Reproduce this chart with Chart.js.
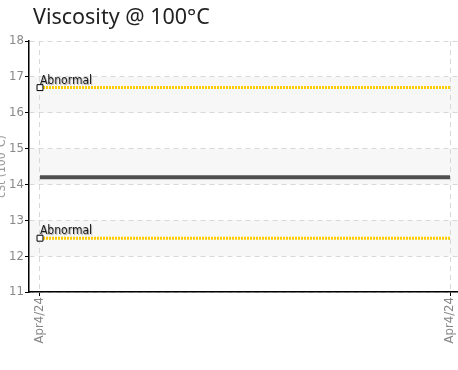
<!DOCTYPE html>
<html>
<head>
<meta charset="utf-8">
<script src="https://cdn.jsdelivr.net/npm/chart.js@4/dist/chart.umd.min.js"></script>
<style>
  html, body { margin: 0; padding: 0; background: #fff; }
  #wrap { width: 458px; height: 370px; position: relative; }
</style>
</head>
<body>
<div id="wrap"><canvas id="c" width="458" height="370"></canvas></div>
<script>
// ---- data ----
const chartTitle = 'Viscosity @ 100°C';
const yAxisTitle = 'cSt (100°C)';
const xLabels = ['Apr4/24', 'Apr4/24'];
const xPositions = [0, 1];
const upperLimit = [16.7, 16.7];
const viscosity = [14.2, 14.2];
const lowerLimit = [12.5, 12.5];
const limitLabel = 'Abnormal';
const yTicks = [11, 12, 13, 14, 15, 16, 17, 18];
const bands = [[16, 17], [14, 15], [12, 13]];

const toPts = arr => arr.map((v, i) => ({ x: xPositions[i], y: v }));

const FONT = '"DejaVu Sans Condensed", "Liberation Sans Narrow", Roboto, sans-serif';

const decor = {
  id: 'decor',
  beforeDraw(chart) {
    const { ctx, chartArea: a, scales: { y } } = chart;
    ctx.save();
    ctx.fillStyle = '#f7f7f7';
    bands.forEach(([lo, hi]) => {
      const t = y.getPixelForValue(hi), b = y.getPixelForValue(lo);
      ctx.fillRect(a.left + 1, t, a.right - a.left - 1, b - t);
    });
    ctx.restore();
  },
  afterDatasetsDraw(chart) {
    const { ctx } = chart;
    ctx.save();
    [0, 2].forEach(di => {
      const p = chart.getDatasetMeta(di).data[0];
      ctx.font = '12px ' + FONT;
      ctx.textAlign = 'left';
      ctx.textBaseline = 'alphabetic';
      ctx.shadowColor = 'rgba(0,0,0,0.35)';
      ctx.shadowOffsetX = 1;
      ctx.shadowOffsetY = 1;
      ctx.shadowBlur = 1;
      ctx.fillStyle = '#1a1a1a';
      ctx.fillText(limitLabel, p.x, p.y - 4);
    });
    ctx.restore();
    ctx.save();
    ctx.font = '21.5px "Noto Sans", sans-serif';
    ctx.fillStyle = '#222';
    ctx.textBaseline = 'middle';
    ctx.textAlign = 'left';
    ctx.fillText(chartTitle, 33, 18);
    ctx.restore();
  }
};

new Chart(document.getElementById('c'), {
  type: 'line',
  data: {
    datasets: [
      {
        data: toPts(upperLimit),
        borderColor: '#FFCC00',
        borderWidth: 3,
        borderDash: [2, 1],
        pointStyle: 'rect',
        pointRadius: [4.2, 0],
        pointBackgroundColor: '#fff',
        pointBorderColor: '#000',
        pointBorderWidth: 1,
        fill: false
      },
      {
        data: toPts(viscosity),
        borderColor: '#505050',
        borderWidth: 4,
        pointRadius: 0,
        fill: false
      },
      {
        data: toPts(lowerLimit),
        borderColor: '#FFCC00',
        borderWidth: 3,
        borderDash: [2, 1],
        pointStyle: 'rect',
        pointRadius: [4.2, 0],
        pointBackgroundColor: '#fff',
        pointBorderColor: '#000',
        pointBorderWidth: 1,
        fill: false
      }
    ]
  },
  options: {
    responsive: false,
    animation: false,
    layout: { autoPadding: false, padding: { left: -5, top: 41, right: 0, bottom: 0 } },
    plugins: {
      legend: { display: false },
      title: { display: false },
      tooltip: { enabled: false }
    },
    scales: {
      x: {
        type: 'linear',
        min: -0.0268,
        max: 1.0195,
        afterBuildTicks(s) { s.ticks = xPositions.map(v => ({ value: v })); },
        afterFit(s) { s.height = 78; s.paddingLeft = 0; s.paddingRight = 0; },
        ticks: {
          autoSkip: false,
          minRotation: 90,
          maxRotation: 90,
          padding: 1,
          color: '#888',
          font: { size: 13, family: FONT },
          callback: (v, i) => xLabels[i]
        },
        grid: {
          color: '#d8d8d8',
          tickColor: '#000',
          tickBorderDash: [],
          tickLength: 4
        },
        border: { color: '#000', width: 1.5, dash: [5, 4] }
      },
      y: {
        min: 11,
        max: 18,
        afterBuildTicks(s) { s.ticks = yTicks.map(v => ({ value: v })); },
        afterFit(s) { s.width = 34; s.paddingTop = 0; s.paddingBottom = 0; },
        ticks: {
          padding: 1,
          color: '#888',
          font: { size: 13, family: FONT }
        },
        title: {
          display: true,
          text: yAxisTitle,
          color: '#999',
          padding: 0,
          font: { size: 12, family: FONT }
        },
        grid: {
          color: '#d8d8d8',
          tickColor: '#000',
          tickBorderDash: [],
          tickLength: 4
        },
        border: { color: '#000', width: 1.5, dash: [5, 4] }
      }
    }
  },
  plugins: [decor]
});
</script>
</body>
</html>
